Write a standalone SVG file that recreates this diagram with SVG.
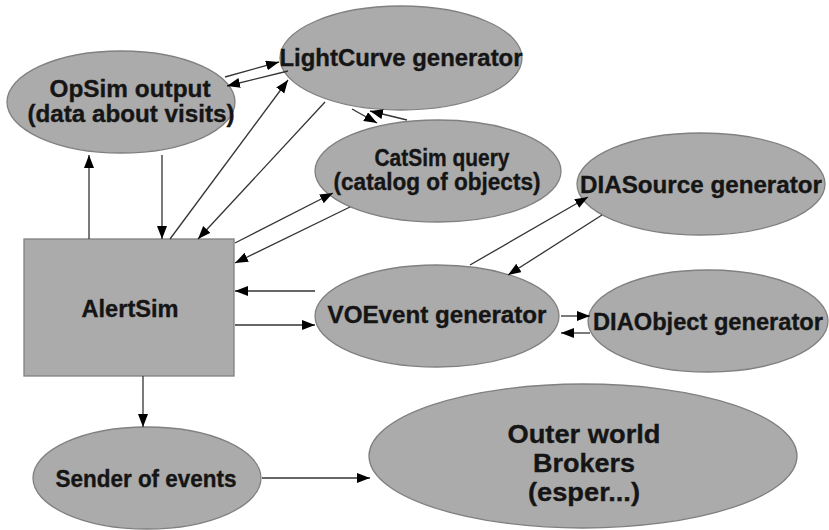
<svg xmlns="http://www.w3.org/2000/svg" width="829" height="530" viewBox="0 0 829 530">
  <style>
    .shape { fill: #ababab; stroke: #808080; stroke-width: 1.3; }
    .lbl { font-family: "Liberation Sans", Arial, sans-serif; font-weight: bold; font-size: 23px; fill: #151515; stroke: #151515; stroke-width: 0.35; text-anchor: middle; }
    .big { font-size: 26.5px; }
    .edge { stroke: #333; stroke-width: 1.3; fill: none; marker-end: url(#arrow); }
  </style>
  <defs>
    <marker id="arrow" markerUnits="userSpaceOnUse" markerWidth="15" markerHeight="11" refX="13" refY="5" orient="auto">
      <path d="M0,0 L13,5 L0,10 z" fill="#000"/>
    </marker>
  </defs>
  <rect width="829" height="530" fill="#fff"/>

  <g id="opsim">
    <ellipse class="shape" cx="121" cy="102" rx="114" ry="51"/>
    <text class="lbl" x="130" y="97" textLength="161" lengthAdjust="spacingAndGlyphs">OpSim output</text>
    <text class="lbl" x="131" y="122" textLength="207" lengthAdjust="spacingAndGlyphs">(data about visits)</text>
  </g>
  <g id="lightcurve">
    <ellipse class="shape" cx="401" cy="58" rx="121" ry="52"/>
    <text class="lbl" x="401" y="66" textLength="243" lengthAdjust="spacingAndGlyphs">LightCurve generator</text>
  </g>
  <g id="catsim">
    <ellipse class="shape" cx="438" cy="171" rx="123" ry="51"/>
    <text class="lbl" x="442" y="166" textLength="135" lengthAdjust="spacingAndGlyphs">CatSim query</text>
    <text class="lbl" x="437" y="190" textLength="207" lengthAdjust="spacingAndGlyphs">(catalog of objects)</text>
  </g>
  <g id="diasource">
    <ellipse class="shape" cx="701" cy="184" rx="124" ry="51"/>
    <text class="lbl" x="701" y="193" textLength="242" lengthAdjust="spacingAndGlyphs">DIASource generator</text>
  </g>
  <g id="alertsim">
    <rect class="shape" x="24" y="239" width="210" height="137"/>
    <text class="lbl" x="130" y="317" textLength="97" lengthAdjust="spacingAndGlyphs">AlertSim</text>
  </g>
  <g id="voevent">
    <ellipse class="shape" cx="437" cy="316" rx="122" ry="51"/>
    <text class="lbl" x="437" y="323" textLength="219" lengthAdjust="spacingAndGlyphs">VOEvent generator</text>
  </g>
  <g id="diaobject">
    <ellipse class="shape" cx="708" cy="321" rx="120" ry="51"/>
    <text class="lbl" x="708" y="330" textLength="230" lengthAdjust="spacingAndGlyphs">DIAObject generator</text>
  </g>
  <g id="sender">
    <ellipse class="shape" cx="147" cy="478" rx="114" ry="51"/>
    <text class="lbl" x="146" y="487" textLength="181" lengthAdjust="spacingAndGlyphs">Sender of events</text>
  </g>
  <g id="brokers">
    <ellipse class="shape" cx="583" cy="456" rx="214" ry="72"/>
    <text class="lbl big" x="584" y="443" textLength="153" lengthAdjust="spacingAndGlyphs">Outer world</text>
    <text class="lbl big" x="584" y="472" textLength="102" lengthAdjust="spacingAndGlyphs">Brokers</text>
    <text class="lbl big" x="584" y="501" textLength="112" lengthAdjust="spacingAndGlyphs">(esper...)</text>
  </g>

  <g id="connectors">
    <line class="edge" x1="225" y1="77" x2="279" y2="62"/>
    <line class="edge" x1="288" y1="71" x2="227" y2="86"/>
    <line class="edge" x1="89" y1="239" x2="89" y2="155"/>
    <line class="edge" x1="162" y1="155" x2="162" y2="239"/>
    <line class="edge" x1="170" y1="239" x2="288" y2="80"/>
    <line class="edge" x1="325" y1="102" x2="198" y2="239"/>
    <line class="edge" x1="235" y1="243" x2="333" y2="193"/>
    <line class="edge" x1="350" y1="207" x2="235" y2="263"/>
    <line class="edge" x1="352" y1="109" x2="377" y2="123"/>
    <line class="edge" x1="407" y1="120" x2="370" y2="111"/>
    <line class="edge" x1="470" y1="265" x2="588" y2="197"/>
    <line class="edge" x1="602" y1="215" x2="508" y2="275"/>
    <line class="edge" x1="315" y1="291" x2="235" y2="291"/>
    <line class="edge" x1="235" y1="325" x2="315" y2="325"/>
    <line class="edge" x1="561" y1="316" x2="590" y2="316"/>
    <line class="edge" x1="590" y1="333" x2="561" y2="333"/>
    <line class="edge" x1="143" y1="376" x2="143" y2="427"/>
    <line class="edge" x1="262" y1="478" x2="370" y2="478"/>
  </g>
</svg>
